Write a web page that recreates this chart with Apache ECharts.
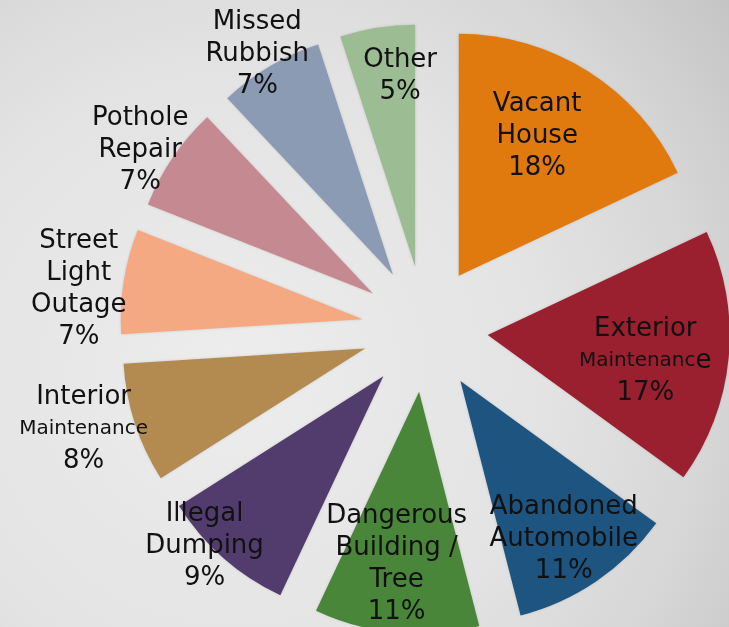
<!DOCTYPE html>
<html>
<head>
<meta charset="utf-8">
<script src="https://cdn.jsdelivr.net/npm/echarts@6/dist/echarts.min.js"></script>
<style>
  html, body { margin: 0; padding: 0; }
  #chart { width: 729px; height: 627px; }
</style>
</head>
<body>
<div id="chart"></div>
<script>
// slices, clockwise from 12 o'clock
const categories = ['Vacant House', 'Exterior Maintenance', 'Abandoned Automobile', 'Dangerous Building / Tree',
  'Illegal Dumping', 'Interior Maintenance', 'Street Light Outage', 'Pothole Repair', 'Missed Rubbish', 'Other'];
const values = [18, 17, 11, 11, 9, 8, 7, 7, 7, 5];
// how each label is broken into lines in the picture
const labelLines = [
  ['Vacant', 'House'],
  ['Exterior', '{s|Maintenanc}e'],
  ['Abandoned', 'Automobile'],
  ['Dangerous', 'Building /', 'Tree'],
  ['Illegal', 'Dumping'],
  ['Interior', '{s|Maintenance}'],
  ['Street', 'Light', 'Outage'],
  ['Pothole', 'Repair'],
  ['Missed', 'Rubbish'],
  ['Other']
];
const colors = ['#e07a0e', '#9a1f2f', '#1d5580', '#4a8639', '#523c6e', '#b38a50', '#f5a982', '#c58a91', '#8b9bb3', '#9cbc94'];

// layout
const cx = 425, cy = 329, R = 242, explode = 63;
const labelDist = [0.66, 0.66, 0.78, 0.72, 1.02, 1.21, 1.18, 1.13, 1.07, 0.79]; // share of radius, from slice tip
const labelTurn = [-3, 4, 1, 2, 5, 2, -3, -2.5, -1, 4.5]; // degrees off the slice bisector

const total = values.reduce((a, b) => a + b, 0);
const midAngles = [];
let acc = 0;
values.forEach(v => { midAngles.push((acc + v / 2) / total * 360); acc += v; });

const chart = echarts.init(document.getElementById('chart'));
chart.setOption({
  animation: false,
  backgroundColor: new echarts.graphic.RadialGradient(0.32, 0.6, 1, [
    { offset: 0, color: '#ededed' },
    { offset: 0.5, color: '#e3e3e3' },
    { offset: 0.75, color: '#d7d7d7' },
    { offset: 1, color: '#c4c4c4' }
  ]),
  series: [
    {
      // exploded slices
      type: 'pie',
      center: [cx, cy],
      radius: [0, R],
      startAngle: 90,
      clockwise: true,
      selectedMode: 'multiple',
      selectedOffset: explode,
      emphasis: { disabled: true },
      itemStyle: { shadowBlur: 3, shadowColor: 'rgba(0,0,0,0.12)' },
      label: { show: false },
      labelLine: { show: false },
      data: categories.map((name, i) => ({
        name: name,
        value: values[i],
        selected: true,
        itemStyle: { color: colors[i] }
      }))
    },
    {
      // same data, sectors hidden, only carries the labels
      type: 'pie',
      center: [cx, cy],
      radius: [0, R],
      startAngle: 90,
      clockwise: true,
      silent: true,
      avoidLabelOverlap: false,
      itemStyle: { color: 'rgba(0,0,0,0)' },
      label: {
        show: true,
        position: 'inside',
        fontFamily: 'DejaVu Sans',
        fontSize: 26,
        lineHeight: 32,
        color: '#111111',
        align: 'center',
        formatter: p => labelLines[p.dataIndex].join('\n') + '\n' + p.value + '%',
        rich: {
          s: { fontFamily: 'DejaVu Sans', fontSize: 20, lineHeight: 32, color: '#111111' }
        }
      },
      labelLine: { show: false },
      labelLayout: function (params) {
        const i = params.dataIndex;
        const tipA = midAngles[i] * Math.PI / 180;
        const a = (midAngles[i] + labelTurn[i]) * Math.PI / 180;
        const r = labelDist[i] * R;
        return {
          x: cx + explode * Math.sin(tipA) + r * Math.sin(a),
          y: cy - explode * Math.cos(tipA) - r * Math.cos(a),
          align: 'center',
          verticalAlign: 'middle'
        };
      },
      data: categories.map((name, i) => ({ name: name, value: values[i] }))
    }
  ]
});
</script>
</body>
</html>
